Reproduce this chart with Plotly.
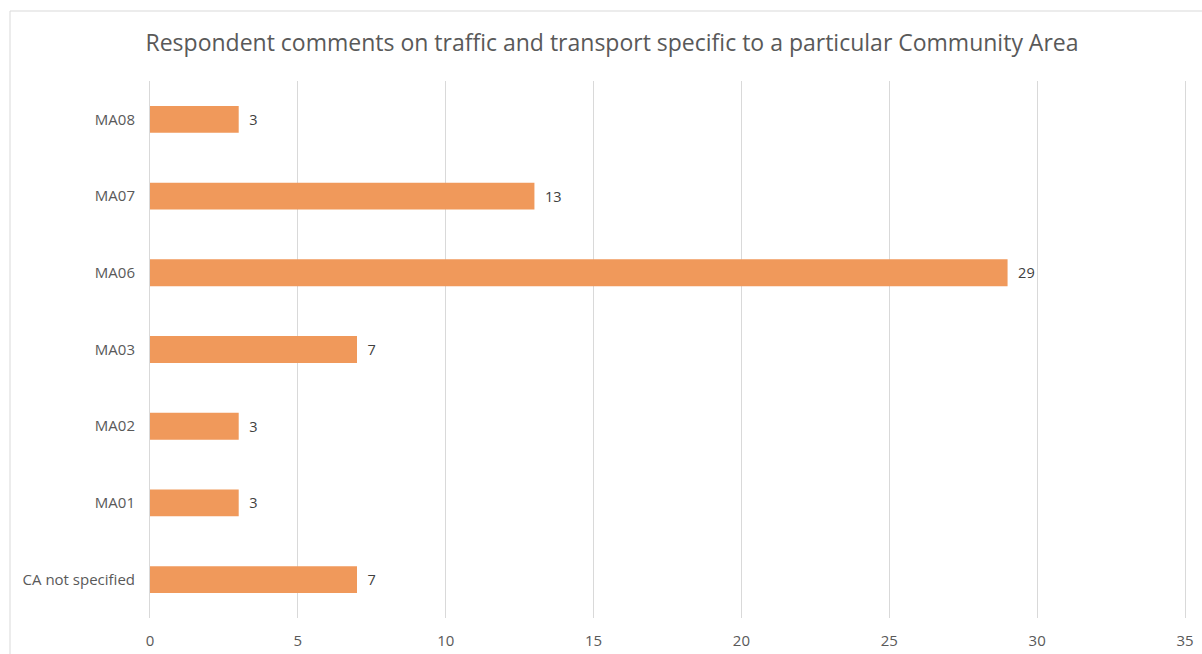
import plotly.graph_objects as go

# Comment counts per Community Area (bottom to top on the axis)
areas = ["CA not specified", "MA01", "MA02", "MA03", "MA06", "MA07", "MA08"]
comments = [7, 3, 3, 7, 29, 13, 3]
x_ticks = [0, 5, 10, 15, 20, 25, 30, 35]

W, H = 1202, 654
L, R, T, B = 150, 17, 81, 36
pw, ph = W - L - R, H - T - B
FONT = "Open Sans, Lato, sans-serif"
GRID = "#D9D9D9"


def px_x(px):
    return (px - L) / pw


def px_y(py):
    return (H - B - py) / ph


fig = go.Figure(
    go.Bar(
        x=comments,
        y=areas,
        orientation="h",
        width=0.35,
        marker=dict(color="#F0995B", line=dict(width=0)),
        text=comments,
        texttemplate="  %{x}",
        textposition="outside",
        cliponaxis=False,
        textfont=dict(family=FONT, size=14.5, color="#404040"),
    )
)

fig.update_layout(
    width=W,
    height=H,
    margin=dict(l=L, r=R, t=T, b=B, autoexpand=False),
    paper_bgcolor="white",
    plot_bgcolor="white",
    showlegend=False,
    title=dict(
        text="Respondent comments on traffic and transport specific to a particular Community Area",
        x=612 / W,
        xanchor="center",
        xref="container",
        y=1 - 43 / H,
        yanchor="middle",
        font=dict(family=FONT, size=23, color="#595959"),
    ),
    font=dict(family=FONT, size=15, color="#595959"),
    xaxis=dict(
        range=[0, 35],
        tickvals=x_ticks,
        showgrid=True,
        gridcolor=GRID,
        gridwidth=1,
        zeroline=False,
        showline=False,
        ticks="",
        automargin=False,
        ticklabelstandoff=12,
        tickfont=dict(size=15, color="#595959"),
        fixedrange=True,
    ),
    yaxis=dict(
        categoryorder="array",
        categoryarray=areas,
        showgrid=False,
        zeroline=False,
        # vertical lines at x = 0 and x = 35 (plot edges)
        showline=True,
        mirror=True,
        linecolor=GRID,
        linewidth=1,
        ticks="",
        automargin=False,
        ticklabelstandoff=11,
        tickfont=dict(size=15, color="#595959"),
        fixedrange=True,
    ),
)

# Thin frame around the chart area
fig.add_shape(
    type="rect",
    xref="paper",
    yref="paper",
    x0=px_x(10),
    x1=px_x(1230),
    y0=px_y(670),
    y1=px_y(11),
    line=dict(color=GRID, width=1),
    fillcolor="rgba(0,0,0,0)",
    layer="below",
)

fig.write_html("out.html")
